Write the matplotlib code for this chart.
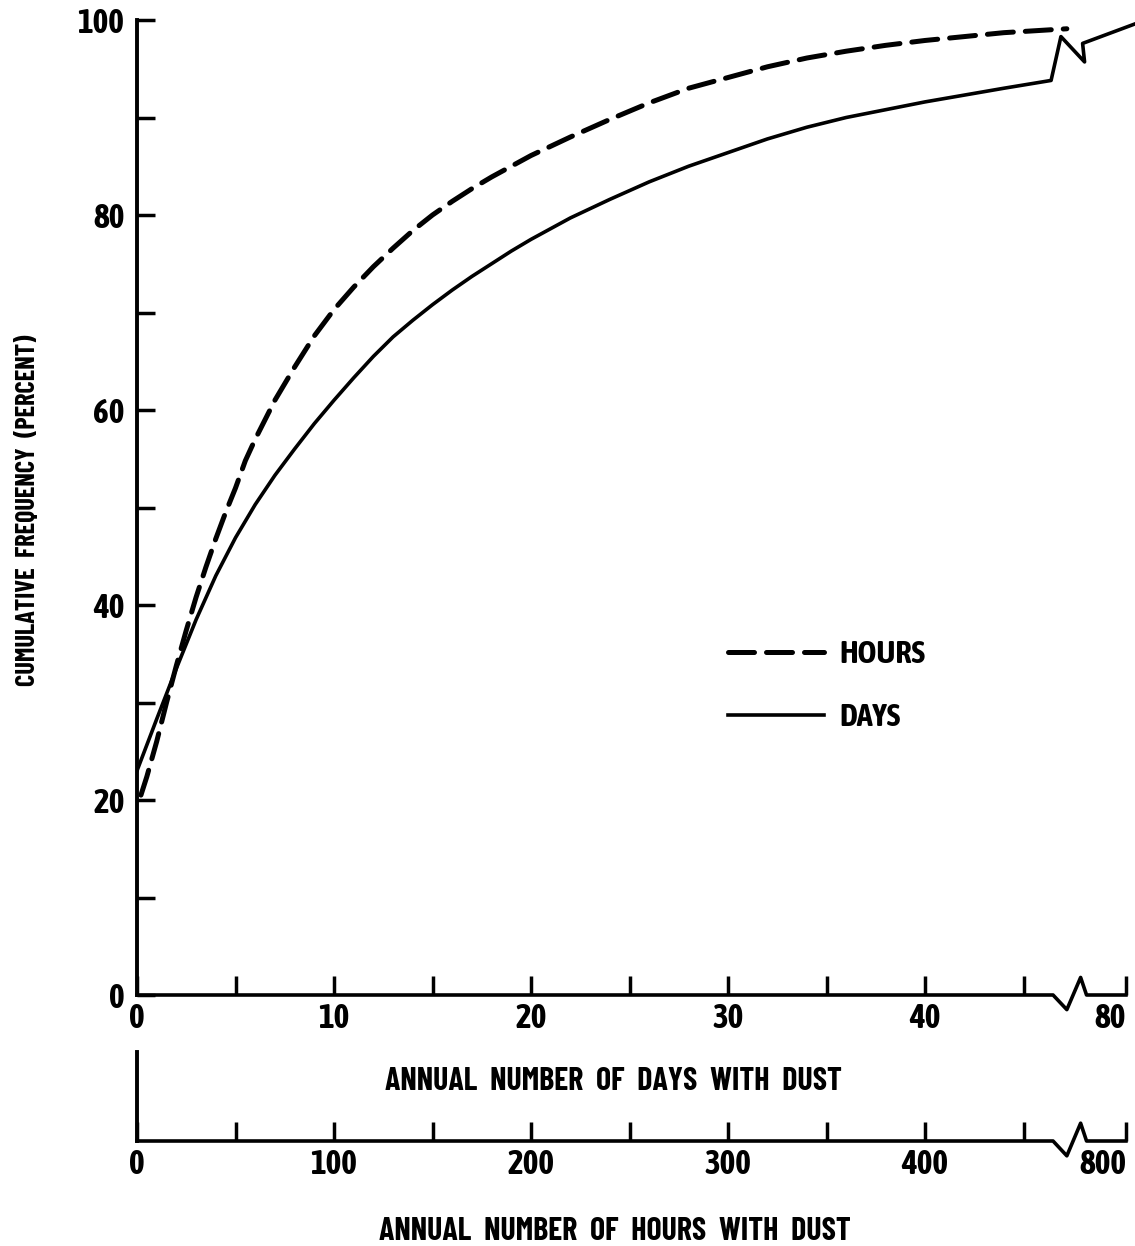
import matplotlib.pyplot as plt

# cumulative frequency curves (x in days; the 47-50 part is past the axis break)
days_x = [0, 1, 2, 3, 4, 5, 6, 7, 8, 9, 10, 11, 12, 13, 14, 15, 16, 17, 18, 19, 20,
          22, 24, 26, 28, 30, 32, 34, 36, 38, 40, 42, 44, 46.4, 46.9, 48.1, 48.0, 50.66]
days_y = [23.0, 28.3, 33.5, 38.5, 43.0, 46.9, 50.3, 53.3, 56.0, 58.6, 61.0, 63.3, 65.5,
          67.5, 69.2, 70.8, 72.3, 73.7, 75.0, 76.3, 77.5, 79.7, 81.6, 83.4, 85.0, 86.4,
          87.8, 89.0, 90.0, 90.8, 91.6, 92.3, 93.0, 93.8, 98.3, 95.7, 97.6, 99.6]

hours_x = [0.2, 0.5, 1, 1.5, 2, 2.5, 3, 3.5, 4, 4.5, 5, 5.5, 6, 7, 8, 9, 10, 11, 12, 13,
           14, 15, 16, 17, 18, 19, 20, 22, 24, 26, 28, 30, 32, 34, 36, 38, 40, 42, 44,
           46, 47.2]
hours_y = [20.5, 22.4, 26.0, 30.0, 33.8, 37.4, 40.8, 43.9, 46.8, 49.5, 52.0, 54.8, 57.0,
           61.0, 64.4, 67.6, 70.3, 72.6, 74.7, 76.6, 78.4, 80.0, 81.4, 82.7, 83.9, 85.0,
           86.1, 88.0, 89.8, 91.5, 93.0, 94.1, 95.2, 96.1, 96.8, 97.4, 97.9, 98.3, 98.7,
           98.95, 99.1]

tick_pos = [0, 10, 20, 30, 40, 50.2]
day_labels = ["0", "10", "20", "30", "40", "80"]
hour_labels = ["0", "100", "200", "300", "400", "800"]
minor_pos = [5, 15, 25, 35, 45]
y_major = [0, 20, 40, 60, 80, 100]
y_minor = [10, 30, 50, 70, 90]

# axis break shape
brk_x = [0, 46.5, 47.2, 47.9, 48.2, 50.2]
brk_y = [0, 0, -1.5, 1.8, 0, 0]

plt.rcParams["font.family"] = ["Asap Condensed", "Barlow Condensed", "DejaVu Sans"]
plt.rcParams["font.weight"] = "bold"
TITLE_FONT = ["Barlow Condensed", "DejaVu Sans"]

W, H = 1135, 1246
fig = plt.figure(figsize=(W / 100, H / 100), dpi=100)
x0 = 137
left = x0 / W
xmax = (W - x0) / 19.7

ax = fig.add_axes([left, (H - 995) / H, 1 - left, (995 - 20) / H])
ax.set_xlim(0, xmax)
ax.set_ylim(0, 100)

ax.plot(hours_x, hours_y, color="black", lw=3.6, dashes=(5.2, 2.4),
        dash_capstyle="round", clip_on=False, label="HOURS")
ax.plot(days_x, days_y, color="black", lw=2.6, label="DAYS")

for s in ["top", "right", "bottom"]:
    ax.spines[s].set_visible(False)
ax.spines["left"].set_linewidth(2.8)
ax.plot(brk_x, brk_y, color="black", lw=2.6, clip_on=False)

ax.set_xticks(tick_pos)
ax.set_xticklabels(day_labels)
ax.set_xticks(minor_pos, minor=True)
ax.set_yticks(y_major)
ax.set_yticks(y_minor, minor=True)
ax.tick_params(axis="x", which="both", direction="in", length=14, width=2.5,
               pad=5, labelsize=24)
ax.tick_params(axis="y", which="both", direction="in", length=13, width=2.5,
               pad=9, labelsize=24)
ax.get_xticklabels()[-1].set_horizontalalignment("right")

leg = ax.legend(loc="upper left", bbox_to_anchor=(728 / W, 1 - 639 / H),
                bbox_transform=fig.transFigure, frameon=False, fontsize=23,
                handlelength=3.0, handletextpad=0.5, labelspacing=1.0,
                borderpad=0, borderaxespad=0)

# hours scale underneath
axh = fig.add_axes([left, (H - 1141) / H, 1 - left, (1141 - 1052) / H])
axh.set_xlim(0, xmax)
axh.set_ylim(0, 1)
for s in ["top", "right", "bottom"]:
    axh.spines[s].set_visible(False)
axh.spines["left"].set_linewidth(2.8)
axh.plot(brk_x, [v / 9 for v in brk_y], color="black", lw=2.6, clip_on=False)
axh.set_xticks(tick_pos)
axh.set_xticklabels(hour_labels)
axh.set_xticks(minor_pos, minor=True)
axh.set_yticks([])
axh.tick_params(axis="x", which="both", direction="in", length=14, width=2.5,
                pad=5, labelsize=24)
axh.get_xticklabels()[-1].set_horizontalalignment("right")

fig.text(613 / W, 1 - 1082 / H, "ANNUAL  NUMBER  OF  DAYS  WITH  DUST",
         ha="center", va="center", fontsize=23, family=TITLE_FONT)
fig.text(615 / W, 1 - 1232 / H, "ANNUAL  NUMBER  OF  HOURS  WITH  DUST",
         ha="center", va="center", fontsize=23, family=TITLE_FONT)
fig.text(28 / W, 1 - 510 / H, "CUMULATIVE  FREQUENCY  (PERCENT)",
         rotation=90, ha="center", va="center", fontsize=19, family=TITLE_FONT)

fig.savefig("out.png", dpi=100)
